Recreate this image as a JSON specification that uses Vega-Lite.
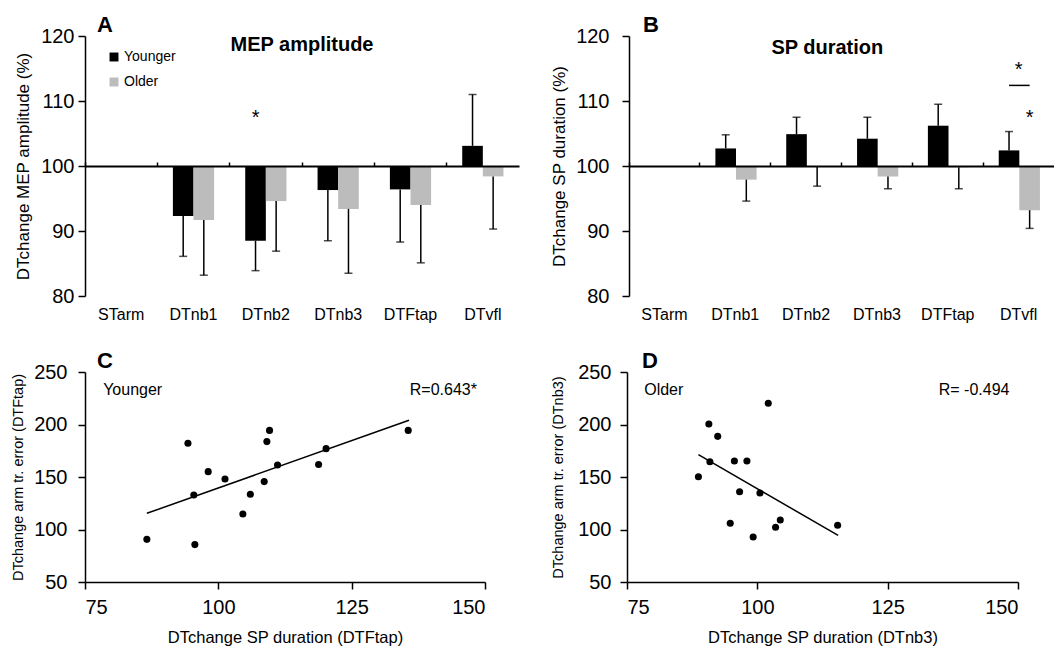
{
  "$schema": "https://vega.github.io/schema/vega-lite/v6.json",
  "padding": {"left": 10, "top": 14, "right": 0, "bottom": 0},
  "config": {
    "font": "Liberation Sans",
    "view": {"stroke": null},
    "axis": {"grid": false, "domainColor": "black", "tickColor": "black", "labelColor": "black", "titleColor": "black", "domainWidth": 1.5, "tickWidth": 1.5, "titleFontWeight": "normal", "labelFont": "Liberation Sans", "titleFont": "Liberation Sans"},
    "title": {"font": "Liberation Sans", "color": "black"}
  },
  "datasets": {
    "mep": [
      {"cat": "DTnb1", "group": "Younger", "value": 92.3, "err": 86.1},
      {"cat": "DTnb2", "group": "Younger", "value": 88.5, "err": 83.9},
      {"cat": "DTnb3", "group": "Younger", "value": 96.3, "err": 88.5},
      {"cat": "DTFtap", "group": "Younger", "value": 96.4, "err": 88.3},
      {"cat": "DTvfl", "group": "Younger", "value": 103.1, "err": 111.0},
      {"cat": "DTnb1", "group": "Older", "value": 91.7, "err": 83.2},
      {"cat": "DTnb2", "group": "Older", "value": 94.6, "err": 86.9},
      {"cat": "DTnb3", "group": "Older", "value": 93.4, "err": 83.5},
      {"cat": "DTFtap", "group": "Older", "value": 94.0, "err": 85.1},
      {"cat": "DTvfl", "group": "Older", "value": 98.4, "err": 90.3}
    ],
    "sp": [
      {"cat": "DTnb1", "group": "Younger", "value": 102.7, "err": 104.8},
      {"cat": "DTnb2", "group": "Younger", "value": 104.9, "err": 107.5},
      {"cat": "DTnb3", "group": "Younger", "value": 104.2, "err": 107.5},
      {"cat": "DTFtap", "group": "Younger", "value": 106.2, "err": 109.5},
      {"cat": "DTvfl", "group": "Younger", "value": 102.4, "err": 105.3},
      {"cat": "DTnb1", "group": "Older", "value": 97.9, "err": 94.6},
      {"cat": "DTnb2", "group": "Older", "value": 99.9, "err": 96.9},
      {"cat": "DTnb3", "group": "Older", "value": 98.4, "err": 96.5},
      {"cat": "DTFtap", "group": "Older", "value": 99.8, "err": 96.5},
      {"cat": "DTvfl", "group": "Older", "value": 93.2, "err": 90.4}
    ],
    "mepStar": [{"cat": "DTnb2", "group": "Younger", "y": 107.4, "label": "*"}],
    "mepTitle": [{"cat": "DTnb3", "y": 118.6, "label": "MEP amplitude"}],
    "spTitle": [{"cat": "DTnb2", "y": 118.2, "label": "SP duration"}],
    "spStarCenter": [{"cat": "DTvfl", "y": 114.8, "label": "*"}],
    "spStarOlder": [{"cat": "DTvfl", "group": "Older", "y": 107.4, "label": "*"}],
    "spLine": [
      {"cat": "DTvfl", "group": "Younger", "y": 112.4},
      {"cat": "DTvfl", "group": "Older", "y": 112.4}
    ],
    "younger": [
      {"sp": 86.6, "err": 90.6},
      {"sp": 94.3, "err": 182.1},
      {"sp": 95.4, "err": 132.9},
      {"sp": 95.6, "err": 85.6},
      {"sp": 98.1, "err": 155.1},
      {"sp": 101.25, "err": 148.1},
      {"sp": 104.6, "err": 114.8},
      {"sp": 106.0, "err": 133.5},
      {"sp": 108.6, "err": 145.6},
      {"sp": 109.1, "err": 183.7},
      {"sp": 109.6, "err": 194.4},
      {"sp": 111.1, "err": 161.4},
      {"sp": 118.8, "err": 161.9},
      {"sp": 120.2, "err": 177.0},
      {"sp": 135.6, "err": 194.4}
    ],
    "youngerFit": [
      {"sp": 86.6, "err": 115.4},
      {"sp": 135.75, "err": 204.0}
    ],
    "youngerNote": [
      {"sp": 78.4, "err": 233, "label": "Younger"},
      {"sp": 135.9, "err": 233, "label": "R=0.643*"}
    ],
    "older": [
      {"sp": 88.7, "err": 150.3},
      {"sp": 90.7, "err": 200.5},
      {"sp": 90.9, "err": 164.6},
      {"sp": 92.4, "err": 188.7},
      {"sp": 94.8, "err": 105.9},
      {"sp": 95.6, "err": 165.2},
      {"sp": 96.6, "err": 136.0},
      {"sp": 98.0, "err": 165.2},
      {"sp": 99.2, "err": 92.9},
      {"sp": 100.5, "err": 134.8},
      {"sp": 102.1, "err": 220.2},
      {"sp": 103.5, "err": 102.1},
      {"sp": 104.4, "err": 109.0},
      {"sp": 115.4, "err": 104.0}
    ],
    "olderFit": [
      {"sp": 88.7, "err": 171.3},
      {"sp": 115.5, "err": 94.4}
    ],
    "olderNote": [
      {"sp": 78.3, "err": 233, "label": "Older"},
      {"sp": 134.8, "err": 233, "label": "R= -0.494"}
    ]
  },
  "spacing": 28,
  "vconcat": [
    {
      "spacing": 31,
      "resolve": {"scale": {"color": "independent"}, "legend": {"color": "independent"}},
      "hconcat": [
        {
          "width": 434, "height": 260,
          "title": {"text": "A", "anchor": "start", "frame": "group", "fontSize": 22, "fontWeight": "bold", "baseline": "alphabetic", "offset": -28, "dx": 12},
          "resolve": {"axis": {"x": "independent"}},
          "layer": [
            {
              "data": {"name": "mep"},
              "mark": {"type": "bar"},
              "encoding": {
                "x": {"field": "cat", "type": "nominal", "sort": null, "scale": {"domain": ["STarm", "DTnb1", "DTnb2", "DTnb3", "DTFtap", "DTvfl"], "paddingInner": 0, "paddingOuter": 0}, "axis": {"title": null, "domain": false, "ticks": false, "tickSize": 0, "labelFontSize": 16, "labelPadding": 10, "labelAngle": 0}},
                "xOffset": {"field": "group", "type": "nominal", "scale": {"domain": ["Younger", "Older"], "paddingInner": 0, "paddingOuter": 0.755}},
                "y": {"field": "value", "type": "quantitative", "scale": {"domain": [80, 120], "zero": false, "nice": false}, "axis": {"values": [80, 90, 100, 110, 120], "tickSize": 7, "labelFontSize": 20, "labelPadding": 4, "title": "DTchange MEP amplitude (%)", "titleFontSize": 17, "titlePadding": 8}},
                "y2": {"datum": 100},
                "color": {"field": "group", "type": "nominal", "scale": {"domain": ["Younger", "Older"], "range": ["#000000", "#bcbcbc"]}, "legend": {"orient": "none", "legendX": 22, "legendY": 14, "title": null, "symbolType": "square", "symbolSize": 80, "symbolStrokeWidth": 0, "labelFontSize": 14, "labelColor": "black", "rowPadding": 11, "labelOffset": 3}}
              }
            },
            {
              "data": {"name": "mep"},
              "mark": {"type": "rule", "color": "black", "strokeWidth": 1.5},
              "encoding": {
                "x": {"field": "cat", "type": "nominal", "axis": {"title": null, "labels": false, "domain": true, "ticks": true, "tickSize": 4, "bandPosition": 0, "offset": -130, "domainWidth": 2, "zindex": 1}},
                "xOffset": {"field": "group", "type": "nominal"},
                "y": {"field": "value", "type": "quantitative"},
                "y2": {"field": "err"}
              }
            },
            {
              "data": {"name": "mep"},
              "mark": {"type": "tick", "color": "black", "thickness": 1.5, "size": 8},
              "encoding": {
                "x": {"field": "cat", "type": "nominal", "axis": null},
                "xOffset": {"field": "group", "type": "nominal"},
                "y": {"field": "err", "type": "quantitative"}
              }
            },
            {
              "data": {"name": "mepStar"},
              "mark": {"type": "text", "fontSize": 20, "color": "black", "baseline": "middle"},
              "encoding": {
                "x": {"field": "cat", "type": "nominal", "axis": null},
                "xOffset": {"field": "group", "type": "nominal"},
                "y": {"field": "y", "type": "quantitative"},
                "text": {"field": "label"}
              }
            },
            {
              "data": {"name": "mepTitle"},
              "mark": {"type": "text", "fontSize": 20, "fontWeight": "bold", "color": "black", "baseline": "middle"},
              "encoding": {
                "x": {"field": "cat", "type": "nominal", "bandPosition": 0, "axis": null},
                "y": {"field": "y", "type": "quantitative"},
                "text": {"field": "label"}
              }
            }
          ]
        },
        {
          "width": 425, "height": 260,
          "title": {"text": "B", "anchor": "start", "frame": "group", "fontSize": 22, "fontWeight": "bold", "baseline": "alphabetic", "offset": -28, "dx": 14},
          "resolve": {"axis": {"x": "independent"}},
          "layer": [
            {
              "data": {"name": "sp"},
              "mark": {"type": "bar"},
              "encoding": {
                "x": {"field": "cat", "type": "nominal", "sort": null, "scale": {"domain": ["STarm", "DTnb1", "DTnb2", "DTnb3", "DTFtap", "DTvfl"], "paddingInner": 0, "paddingOuter": 0}, "axis": {"title": null, "domain": false, "ticks": false, "tickSize": 0, "labelFontSize": 16, "labelPadding": 10, "labelAngle": 0}},
                "xOffset": {"field": "group", "type": "nominal", "scale": {"domain": ["Younger", "Older"], "paddingInner": 0, "paddingOuter": 0.755}},
                "y": {"field": "value", "type": "quantitative", "scale": {"domain": [80, 120], "zero": false, "nice": false}, "axis": {"values": [80, 90, 100, 110, 120], "tickSize": 7, "labelFontSize": 20, "labelPadding": 13, "title": "DTchange SP duration (%)", "titleFontSize": 17, "titlePadding": 7}},
                "y2": {"datum": 100},
                "color": {"field": "group", "type": "nominal", "scale": {"domain": ["Younger", "Older"], "range": ["#000000", "#bcbcbc"]}, "legend": null}
              }
            },
            {
              "data": {"name": "sp"},
              "mark": {"type": "rule", "color": "black", "strokeWidth": 1.5},
              "encoding": {
                "x": {"field": "cat", "type": "nominal", "axis": {"title": null, "labels": false, "domain": true, "ticks": true, "tickSize": 4, "bandPosition": 0, "offset": -130, "domainWidth": 2, "zindex": 1}},
                "xOffset": {"field": "group", "type": "nominal"},
                "y": {"field": "value", "type": "quantitative"},
                "y2": {"field": "err"}
              }
            },
            {
              "data": {"name": "sp"},
              "mark": {"type": "tick", "color": "black", "thickness": 1.5, "size": 8},
              "encoding": {
                "x": {"field": "cat", "type": "nominal", "axis": null},
                "xOffset": {"field": "group", "type": "nominal"},
                "y": {"field": "err", "type": "quantitative"}
              }
            },
            {
              "data": {"name": "spLine"},
              "mark": {"type": "line", "color": "black", "strokeWidth": 1.5},
              "encoding": {
                "x": {"field": "cat", "type": "nominal", "axis": null},
                "xOffset": {"field": "group", "type": "nominal"},
                "y": {"field": "y", "type": "quantitative"}
              }
            },
            {
              "data": {"name": "spStarCenter"},
              "mark": {"type": "text", "fontSize": 20, "color": "black", "baseline": "middle"},
              "encoding": {
                "x": {"field": "cat", "type": "nominal", "axis": null},
                "y": {"field": "y", "type": "quantitative"},
                "text": {"field": "label"}
              }
            },
            {
              "data": {"name": "spStarOlder"},
              "mark": {"type": "text", "fontSize": 20, "color": "black", "baseline": "middle"},
              "encoding": {
                "x": {"field": "cat", "type": "nominal", "axis": null},
                "xOffset": {"field": "group", "type": "nominal"},
                "y": {"field": "y", "type": "quantitative"},
                "text": {"field": "label"}
              }
            },
            {
              "data": {"name": "spTitle"},
              "mark": {"type": "text", "fontSize": 20, "fontWeight": "bold", "color": "black", "baseline": "middle"},
              "encoding": {
                "x": {"field": "cat", "type": "nominal", "bandPosition": 0.8, "axis": null},
                "y": {"field": "y", "type": "quantitative"},
                "text": {"field": "label"}
              }
            }
          ]
        }
      ]
    },
    {
      "spacing": 64,
      "hconcat": [
        {
          "width": 400, "height": 210,
          "title": {"text": "C", "anchor": "start", "frame": "group", "fontSize": 22, "fontWeight": "bold", "baseline": "alphabetic", "offset": -28, "dx": 12},
          "layer": [
            {
              "data": {"name": "younger"},
              "mark": {"type": "circle", "size": 50, "color": "black", "opacity": 1},
              "encoding": {
                "x": {"field": "sp", "type": "quantitative", "scale": {"domain": [75, 150], "nice": false, "zero": false}, "axis": {"values": [75, 100, 125, 150], "tickSize": 7, "labelFontSize": 20, "labelPadding": 8, "title": "DTchange SP duration (DTFtap)", "titleFontSize": 16.5, "titlePadding": 12}},
                "y": {"field": "err", "type": "quantitative", "scale": {"domain": [50, 250], "nice": false, "zero": false}, "axis": {"values": [50, 100, 150, 200, 250], "tickSize": 7, "labelFontSize": 20, "labelPadding": 11, "title": "DTchange arm tr. error (DTFtap)", "titleFontSize": 14.5, "titlePadding": 8}}
              }
            },
            {
              "data": {"name": "youngerFit"},
              "mark": {"type": "line", "color": "black", "strokeWidth": 1.5},
              "encoding": {
                "x": {"field": "sp", "type": "quantitative"},
                "y": {"field": "err", "type": "quantitative"}
              }
            },
            {
              "data": {"name": "youngerNote"},
              "mark": {"type": "text", "fontSize": 16, "align": "left", "baseline": "middle", "color": "black"},
              "encoding": {
                "x": {"field": "sp", "type": "quantitative"},
                "y": {"field": "err", "type": "quantitative"},
                "text": {"field": "label"}
              }
            }
          ]
        },
        {
          "width": 391, "height": 210,
          "title": {"text": "D", "anchor": "start", "frame": "group", "fontSize": 22, "fontWeight": "bold", "baseline": "alphabetic", "offset": -28, "dx": 15},
          "layer": [
            {
              "data": {"name": "older"},
              "mark": {"type": "circle", "size": 50, "color": "black", "opacity": 1},
              "encoding": {
                "x": {"field": "sp", "type": "quantitative", "scale": {"domain": [75, 150], "nice": false, "zero": false}, "axis": {"values": [75, 100, 125, 150], "tickSize": 7, "labelFontSize": 20, "labelPadding": 8, "title": "DTchange SP duration (DTnb3)", "titleFontSize": 16.5, "titlePadding": 12}},
                "y": {"field": "err", "type": "quantitative", "scale": {"domain": [50, 250], "nice": false, "zero": false}, "axis": {"values": [50, 100, 150, 200, 250], "tickSize": 7, "labelFontSize": 20, "labelPadding": 9, "title": "DTchange arm tr. error (DTnb3)", "titleFontSize": 14.5, "titlePadding": 12}}
              }
            },
            {
              "data": {"name": "olderFit"},
              "mark": {"type": "line", "color": "black", "strokeWidth": 1.5},
              "encoding": {
                "x": {"field": "sp", "type": "quantitative"},
                "y": {"field": "err", "type": "quantitative"}
              }
            },
            {
              "data": {"name": "olderNote"},
              "mark": {"type": "text", "fontSize": 16, "align": "left", "baseline": "middle", "color": "black"},
              "encoding": {
                "x": {"field": "sp", "type": "quantitative"},
                "y": {"field": "err", "type": "quantitative"},
                "text": {"field": "label"}
              }
            }
          ]
        }
      ]
    }
  ]
}
